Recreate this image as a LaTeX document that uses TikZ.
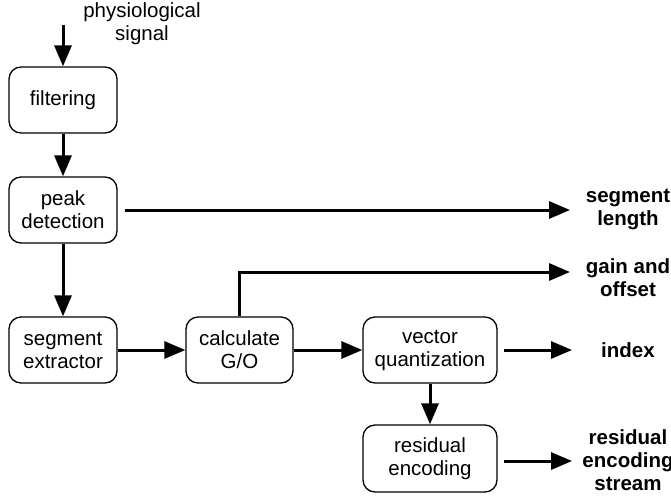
\documentclass[tikz,border=0pt]{standalone}
\usepackage{fontspec}
\setmainfont{Liberation Sans}
\usetikzlibrary{arrows.meta}
\begin{document}
\begin{tikzpicture}[x=1pt,y=-1pt,
 box/.style={draw, line width=1.3pt, rounded corners=12pt, minimum width=108pt, minimum height=66pt, align=center, inner sep=0pt, font=\fontsize{20.5}{23}\selectfont},
 flow/.style={line width=3pt, -{Triangle[length=21pt,width=17pt]}},
 lbl/.style={align=center, inner sep=0pt, font=\fontsize{20.5}{23}\selectfont},
 outl/.style={align=center, inner sep=0pt, font=\fontsize{20.5}{23}\selectfont\bfseries}]
\useasboundingbox (0,0) rectangle (671,495);
% boxes
\node[box] (filt) at (63,100) {filtering};
\node[box] (peak) at (63,210) {peak\\detection};
\node[box] (seg) at (63,350) {segment\\extractor};
\node[box, minimum width=107pt] (calc) at (239.5,350) {calculate\\G/O};
\node[box, minimum width=134pt] (vq) at (430,350) {vector\\quantization};
\node[box, minimum width=134pt, minimum height=67pt] (res) at (430,458.5) {residual\\encoding};
% labels
\node[lbl] (phys) at (142,24) {physiological\\signal};
\node[outl] (seglen) at (628,209) {segment\\length};
\node[outl] (gain) at (628,278) {gain and\\offset};
\node[outl] (idx) at (628,350) {index};
\node[outl] (stream) at (628,460) {residual\\encoding\\stream};
% connector ends
\coordinate (inp) at (63,25);
\coordinate (segend) at (570,210);
\coordinate (gainend) at (570,272);
\coordinate (idxend) at (572,350);
\coordinate (streamend) at (572,461);
% arrows
\draw[flow] (inp) -- (filt.north);
\draw[flow] (filt.south) -- (peak.north);
\draw[flow] (peak.south) -- (seg.north);
\draw[flow] ([xshift=7pt]peak.east) -- (segend);
\draw[flow] (seg.east) -- (calc.west);
\draw[flow] (calc.east) -- (vq.west);
\draw[flow] (calc.north) |- (gainend);
\draw[flow] ([xshift=6pt]vq.east) -- (idxend);
\draw[flow] (vq.south) -- (res.north);
\draw[flow] ([xshift=6pt,yshift=-2.5pt]res.east) -- (streamend);
\end{tikzpicture}
\end{document}
